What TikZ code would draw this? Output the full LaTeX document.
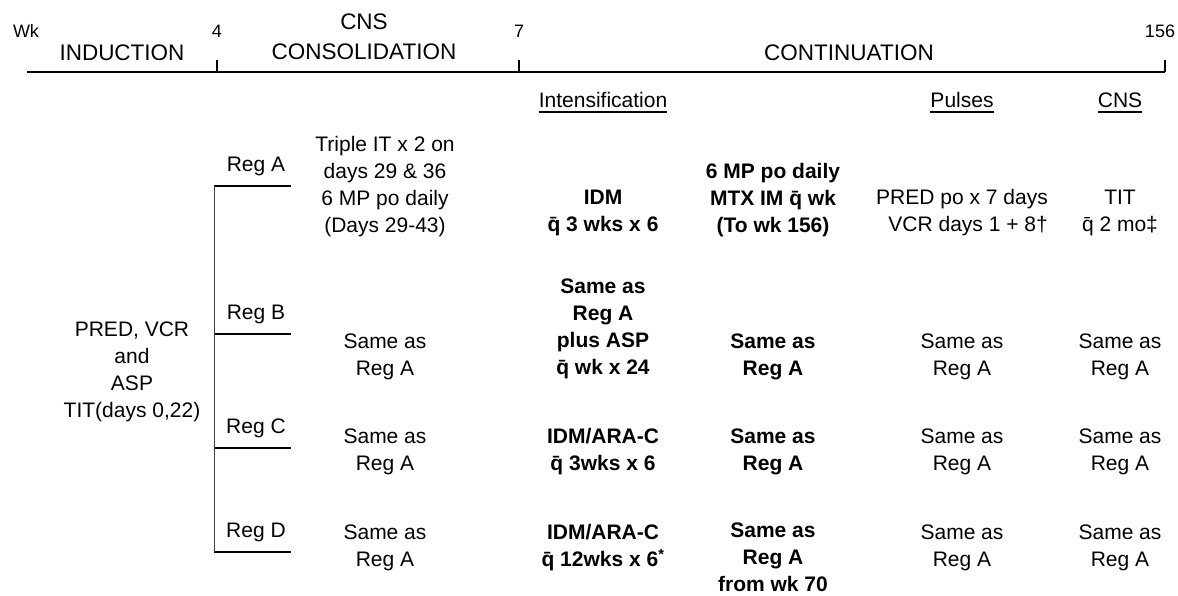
\documentclass[tikz,border=0pt]{standalone}
\usepackage{fontspec}
\setmainfont{Liberation Sans}
\usepackage{tikz}

\begin{document}
\begin{tikzpicture}[x=1pt,y=-1pt,
        txt/.style={font=\fontsize{21}{27}\selectfont, align=center, inner sep=0pt},
        btxt/.style={txt, font=\fontsize{21}{27}\selectfont\bfseries},
        phase/.style={font=\fontsize{22.5}{30}\selectfont, align=center, inner sep=0pt},
        wkno/.style={font=\fontsize{18}{20}\selectfont, inner sep=0pt},
        axis/.style={line width=2.5pt},
        wktick/.style={line width=1.2pt},
        regline/.style={line width=2pt},
        stem/.style={line width=1pt, black!75},
        uline/.style={line width=1.8pt}]
        \useasboundingbox (0,0) rectangle (1178,596);

        \coordinate (w0) at (27,72);
        \coordinate (w156) at (1165,72);
        \draw[axis] (w0) -- (w156);
        \foreach \t/\x/\lx in {4/217/217, 7/519/519, 156/1165/1160} {
            \coordinate (wa\t) at (\x,72);
            \coordinate (wb\t) at (\x,60);
            \draw[wktick] (wa\t) -- (wb\t);
            \node[wkno] (n\t) at (\lx,31) {\t};
        }
        \node[wkno] (wk) at (26,31) {Wk};
        \node[phase] (induct) at (122,53) {INDUCTION};
        \node[phase] (cnscons) at (364,37) {CNS\\CONSOLIDATION};
        \node[phase] (contin) at (849,53) {CONTINUATION};

        \node[txt] (hint) at (603,100) {Intensification};
        \node[txt] (hpls) at (962,100) {Pulses};
        \node[txt] (hcns) at (1120,100) {CNS};
        \foreach \h in {hint, hpls, hcns}
            \draw[uline] ([yshift=-4pt]\h.south west) -- ([yshift=-4pt]\h.south east);

        \node[txt] (induc) at (132,372) {PRED, VCR\\and\\ASP\\TIT(days 0,22)};
        \foreach \r/\y in {A/186, B/334, C/448, D/552} {
            \coordinate (br\r) at (214,\y);
            \coordinate (re\r) at (291,\y);
            \draw[regline] (br\r) -- (re\r);
            \node[txt] (reg\r) at (256,\y-20) {Reg \r};
        }
        \draw[stem] (brA) -- (brD);

        \node[txt] (consA) at (385,187) {Triple IT x 2 on\\days 29 \& 36\\6 MP po daily\\(Days 29-43)};
        \node[btxt] (intA) at (603,213) {IDM\\\={q} 3 wks x 6};
        \node[btxt] (mntA) at (773,200) {6 MP po daily\\MTX IM \={q} wk\\(To wk 156)};
        \node[txt, align=right] (plsA) at (962,213) {PRED po x 7 days\\VCR days 1 + 8\textdagger};
        \node[txt] (cnsA) at (1120,213) {TIT\\\={q} 2 mo\textdaggerdbl};

        \node[btxt] (intB) at (603,329) {Same as\\Reg A\\plus ASP\\\={q} wk x 24};
        \node[btxt] (intC) at (603,452) {IDM/ARA-C\\\={q} 3wks x 6};
        \node[btxt] (intD) at (603,548) {IDM/ARA-C\\\={q} 12wks x 6\textsuperscript{*}};
        \node[btxt] (mntD) at (773,557) {Same as\\Reg A\\from wk 70};
        \foreach \r/\y in {B/357, C/452, D/548} {
            \node[txt] (cons\r) at (385,\y) {Same as\\Reg A};
            \node[txt] (pls\r) at (962,\y) {Same as\\Reg A};
            \node[txt] (cns\r) at (1120,\y) {Same as\\Reg A};
        }
        \foreach \r/\y in {B/357, C/452}
            \node[btxt] (mnt\r) at (773,\y) {Same as\\Reg A};
\end{tikzpicture}
\end{document}
